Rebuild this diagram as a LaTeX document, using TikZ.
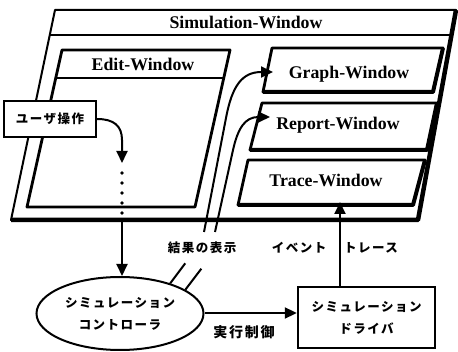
\documentclass[tikz,border=0pt]{standalone}
\usepackage{fontspec}
\setmainfont{Liberation Serif}
\newfontfamily\jp[LetterSpace=12]{Noto Sans CJK JP}
\usetikzlibrary{arrows.meta,shapes.geometric,positioning}

\tikzset{
  outer/.style={line width=2pt,line join=round},
  outershadow/.style={line width=4.5pt,line join=round},
  win/.style={line width=2.8pt,line join=round},
  winshadow/.style={line width=4pt,line join=round},
  bar/.style={line width=1.6pt},
  wtitle/.style={anchor=base,inner sep=0pt,font=\fontsize{17.8}{19}\selectfont\bfseries},
  jplabel/.style={inner sep=0pt,align=center,font=\fontsize{12.5}{22}\selectfont\jp\bfseries},
  arr/.style={-{Triangle[length=12pt,width=11pt]},line width=2pt},
  dots/.style={line width=3.8pt,line cap=round,dash pattern=on 0pt off 10pt},
}

\begin{document}
\begin{tikzpicture}[x=1pt,y=-1pt]
\useasboundingbox (0,0) rectangle (458,352);

% Simulation-Window
\draw[outer] (55,10) -- (456,10) -- (418,220) -- (11,220) -- cycle;
\draw[outershadow] (456,10) -- (418,220) -- (11,220);
\draw[bar] (49.8,35) -- (451.5,35);
\node[wtitle] (simt) at (246,29) {Simulation-Window};

% Edit-Window
\draw[win] (62,50) -- (230,50) -- (195,207) -- (27,207) -- cycle;
\draw[bar] (55.8,78) -- (223.8,78);
\node[wtitle] (editt) at (143,71) {Edit-Window};

% Graph-Window
\draw[win] (272,48) -- (443,48) -- (433,92) -- (263,92) -- cycle;
\draw[winshadow] (443,48) -- (433,92) -- (263,92);
\node[wtitle] (grapht) at (349,79) {Graph-Window};

% Report-Window
\draw[win] (262,103) -- (437,103) -- (427,150) -- (250,150) -- cycle;
\draw[winshadow] (437,103) -- (427,150) -- (250,150);
\node[wtitle] (reportt) at (338,130) {Report-Window};

% Trace-Window
\draw[win] (248,160) -- (425,160) -- (413,205) -- (238,205) -- cycle;
\draw[winshadow] (425,160) -- (413,205) -- (238,205);
\node[wtitle] (tracet) at (326,187) {Trace-Window};

% Knoten unten
\node[jplabel,draw,ellipse,line width=2pt,fill=white,minimum width=167pt,minimum height=73pt] (ctl) at (120,313.5) {シミュレーション\\コントローラ};
\node[jplabel,draw,rectangle,line width=2.4pt,fill=white,minimum width=137pt,minimum height=61pt] (drv) at (366.5,317.5) {シミュレーション\\ドライバ};
\node[jplabel,draw,rectangle,line width=2pt,fill=white,minimum width=92pt,minimum height=36pt] (user) at (50,119) {ユーザ操作};

% Punkte
\coordinate (uend) at (122,163);
\coordinate (dend) at (122,221);
\coordinate (gin) at (273,72);
\coordinate (rin) at (270,117);
\coordinate (gout) at (204,232);
\coordinate (rout) at (215,232);
\coordinate (evt) at (340,202);

% Pfeile
\draw[arr] (user.east) .. controls (114,119) and (122,126) .. (122,140) -- (uend);
\draw[dots] (122,173) -- (122,216);
\draw[arr] (dend) -- (dend |- ctl.north);
\draw[arr] (ctl.east |- 0,313) -- (drv.west |- 0,313);
\draw[arr] (evt |- drv.north) -- (evt);
\draw[arr] (gout) -- (226,118) .. controls (232,86) and (242,72) .. (gin);
\draw[arr] (rout) -- (233,150) .. controls (238,128) and (245,117) .. (rin);
\draw[line width=2pt] (ctl.31) -- ++(15,-20);
\draw[line width=2pt] (ctl.20) -- ++(16,-21);

% Beschriftungen
\node[jplabel] (res) at (202,248) {結果の表示};
\node[jplabel] (ev) at (299,248) {イベント};
\node[jplabel] (tr) at (371,248) {トレース};
\node[jplabel,font=\fontsize{14}{16}\selectfont\jp\bfseries] (exe) at (244,332) {実行制御};
\end{tikzpicture}
\end{document}
